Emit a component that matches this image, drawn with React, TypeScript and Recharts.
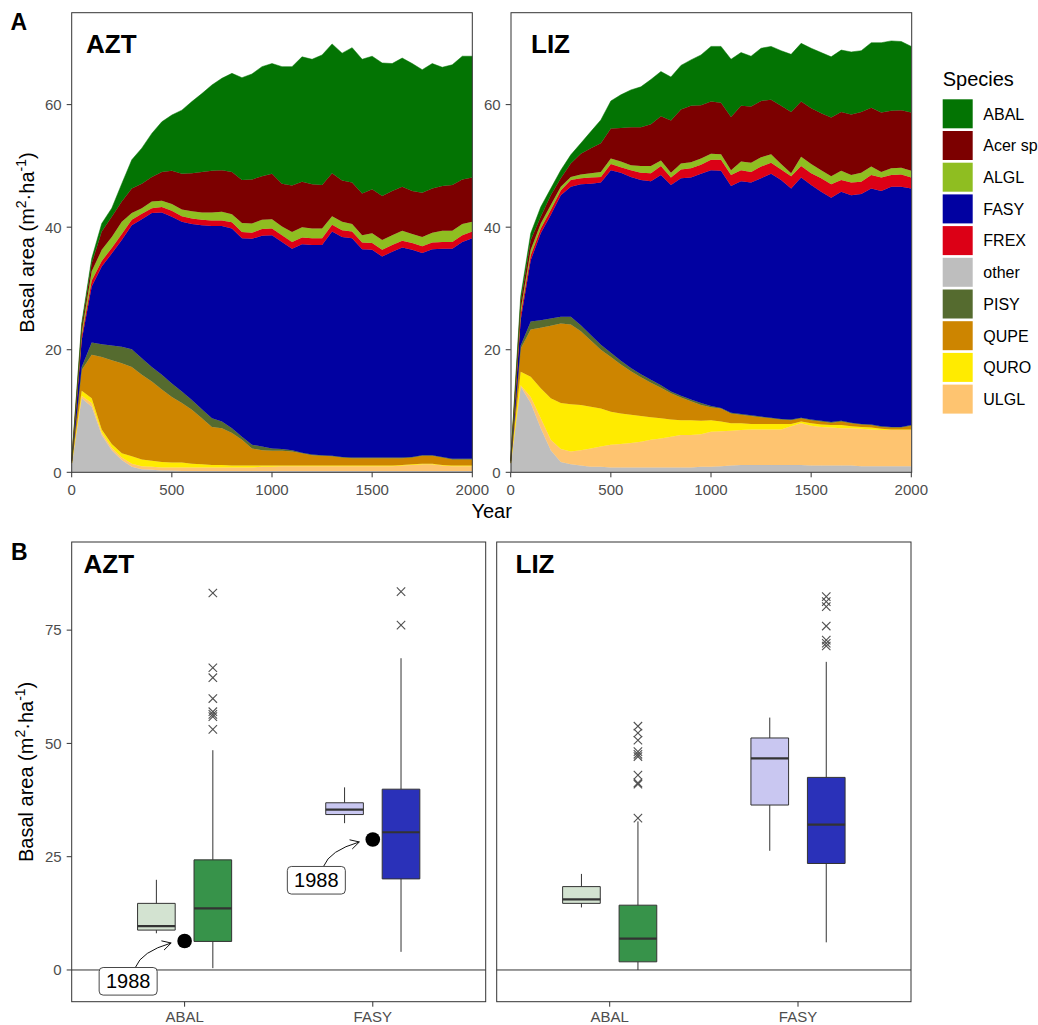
import React from "react";
import {
  AreaChart,
  Area,
  ComposedChart,
  Scatter,
  XAxis,
  YAxis,
  ReferenceArea,
  ReferenceLine,
} from "recharts";

const FONT = '"Liberation Sans", Arial, Helvetica, sans-serif';
const INK = "#333333";
const TICK_TEXT = "#4d4d4d";

// ---- panel A: stacked basal area over simulated years ----
const years = [
  0, 50, 100, 150, 200, 250, 300, 350, 400, 450, 500, 550, 600, 650, 700, 750, 800, 850, 900, 950, 1000,
  1050, 1100, 1150, 1200, 1250, 1300, 1350, 1400, 1450, 1500, 1550, 1600, 1650, 1700, 1750, 1800, 1850, 1900,
  1950, 2000,
];
const yearTicks = [0, 500, 1000, 1500, 2000];

const aztOther = [1.5, 12.1, 10.7, 6.1, 3.6, 2.0, 0.9, 0.5, 0.4, 0.3, 0.3, 0.2, 0.2, 0.2, 0.2, 0.2, 0.2, 0.2, 0.2, 0.2, 0.2, 0.2, 0.2, 0.2, 0.2, 0.2, 0.2, 0.2, 0.2, 0.2, 0.2, 0.2, 0.2, 0.2, 0.2, 0.2, 0.2, 0.2, 0.2, 0.2, 0.2];
const aztULGL = [0, 0.4, 0.6, 0.4, 0.4, 0.4, 0.5, 0.5, 0.5, 0.5, 0.5, 0.6, 0.6, 0.6, 0.6, 0.6, 0.6, 0.6, 0.6, 0.7, 0.7, 0.8, 0.8, 0.8, 0.8, 0.8, 0.8, 0.8, 0.8, 0.8, 0.8, 0.8, 0.8, 0.9, 1.0, 1.1, 1.1, 0.9, 0.8, 0.8, 0.8];
const aztQURO = [0, 0.8, 0.8, 0.5, 0.6, 0.7, 1.2, 1.1, 1.0, 0.9, 0.8, 0.8, 0.6, 0.5, 0.4, 0.4, 0.3, 0.3, 0.3, 0.2, 0.2, 0.1, 0.1, 0.1, 0.1, 0.1, 0.1, 0.1, 0.1, 0.1, 0.1, 0.1, 0.1, 0.1, 0.1, 0.1, 0.1, 0.1, 0.1, 0.1, 0.1];
const aztQUPE = [0, 3.4, 7.1, 11.8, 13.7, 14.7, 14.6, 13.8, 12.9, 11.8, 10.7, 9.7, 8.8, 7.5, 6.2, 6.0, 5.3, 4.2, 2.8, 2.5, 2.4, 2.4, 2.3, 2.0, 1.7, 1.6, 1.5, 1.3, 1.2, 1.2, 1.2, 1.2, 1.2, 1.1, 1.1, 1.3, 1.3, 1.2, 1.0, 1.0, 1.0];
const aztPISY = [0, 0.5, 2.0, 2.1, 2.4, 2.7, 2.9, 2.7, 2.4, 2.4, 2.2, 1.9, 1.6, 1.5, 1.4, 1.1, 0.8, 0.5, 0.6, 0.6, 0.4, 0.3, 0.2, 0.1, 0.1, 0.1, 0.1, 0.1, 0.1, 0.1, 0.1, 0.1, 0.1, 0.1, 0.1, 0.1, 0.1, 0.1, 0.1, 0.1, 0.1];
const aztFASY = [0.3, 4.4, 9.1, 12.7, 15.0, 17.4, 20.2, 22.7, 25.1, 26.5, 27.2, 27.7, 28.7, 30.0, 31.4, 31.9, 32.6, 32.4, 33.6, 34.4, 34.8, 33.8, 32.9, 34.0, 34.2, 34.3, 36.6, 35.9, 35.8, 34.0, 33.9, 32.8, 33.6, 34.3, 33.8, 33.0, 33.6, 34.0, 34.3, 35.4, 36.0];
const aztFREX = [0, 0.6, 1.0, 0.9, 0.9, 1.0, 0.9, 0.9, 0.8, 0.9, 1.0, 0.9, 0.9, 0.9, 0.9, 0.9, 1.0, 1.0, 1.0, 1.1, 1.1, 1.1, 1.1, 1.1, 1.1, 1.1, 1.1, 1.1, 1.1, 1.1, 1.1, 1.1, 1.1, 1.1, 1.1, 1.1, 1.1, 1.1, 1.1, 1.1, 1.1];
const aztALGL = [0, 0.8, 1.5, 1.8, 1.8, 2.0, 1.1, 0.9, 1.1, 1.0, 1.1, 1.1, 1.2, 1.2, 1.3, 1.4, 1.3, 1.5, 1.5, 1.5, 1.5, 1.4, 1.6, 1.7, 1.6, 1.6, 1.4, 1.4, 1.2, 1.2, 1.6, 1.6, 1.6, 1.6, 1.5, 1.5, 1.6, 1.8, 1.8, 1.8, 1.6];
const aztAcer = [0, 0.8, 1.3, 3.0, 3.3, 3.3, 4.0, 4.0, 4.0, 4.7, 5.4, 5.8, 6.2, 6.6, 6.8, 6.8, 6.9, 7.0, 7.2, 7.1, 7.4, 7.0, 7.6, 7.4, 7.2, 7.1, 7.0, 6.7, 6.8, 6.8, 7.2, 7.2, 7.2, 7.2, 7.0, 7.2, 7.2, 7.3, 7.5, 7.3, 7.2];
const aztABAL = [0, 0.5, 0.8, 1.3, 1.4, 2.9, 4.7, 5.8, 7.1, 8.2, 9.1, 10.4, 11.7, 12.8, 14.0, 15.0, 16.1, 16.7, 17.2, 17.9, 18.0, 19.1, 19.4, 20.4, 20.4, 21.2, 21.1, 20.8, 22.0, 21.9, 21.7, 21.7, 20.8, 21.0, 20.8, 20.1, 20.4, 19.4, 19.6, 20.1, 19.8];

const lizOther = [1.5, 14.0, 11.3, 7.2, 3.6, 1.7, 1.3, 1.1, 0.9, 0.9, 0.8, 0.8, 0.8, 0.8, 0.8, 0.8, 0.8, 0.8, 0.8, 0.9, 0.9, 1.0, 1.1, 1.2, 1.2, 1.2, 1.2, 1.2, 1.2, 1.2, 1.1, 1.1, 1.1, 1.1, 1.1, 1.0, 1.0, 1.0, 1.0, 1.0, 1.0];
const lizULGL = [0, 0.2, 1.0, 1.6, 1.7, 2.1, 2.1, 2.5, 3.0, 3.3, 3.7, 3.8, 4.0, 4.2, 4.5, 4.7, 5.0, 5.3, 5.3, 5.3, 5.7, 5.7, 5.7, 5.7, 5.8, 5.8, 5.8, 5.8, 6.3, 6.8, 6.5, 6.3, 6.2, 6.1, 6.1, 6.1, 6.0, 5.9, 5.9, 5.9, 5.9];
const lizQURO = [0, 2.2, 3.3, 4.9, 6.8, 7.5, 7.7, 7.4, 6.8, 6.2, 5.4, 5.0, 4.6, 4.2, 3.7, 3.3, 2.8, 2.4, 2.4, 2.2, 1.9, 1.6, 1.2, 1.1, 0.9, 0.9, 0.9, 0.9, 0.4, 0.3, 0.4, 0.4, 0.4, 0.5, 0.3, 0.3, 0.3, 0.2, 0.1, 0.1, 0.1];
const lizQUPE = [0, 3.8, 7.7, 9.9, 11.8, 13.0, 13.0, 12.0, 10.8, 9.6, 8.9, 8.0, 7.1, 6.3, 5.6, 5.0, 4.3, 3.7, 3.1, 2.6, 2.1, 2.1, 1.6, 1.4, 1.3, 1.1, 0.9, 0.7, 0.6, 0.5, 0.5, 0.5, 0.4, 0.6, 0.5, 0.4, 0.4, 0.3, 0.3, 0.3, 0.6];
const lizPISY = [0, 0.5, 1.3, 1.2, 1.2, 1.1, 1.3, 1.0, 0.9, 0.8, 0.7, 0.6, 0.5, 0.5, 0.5, 0.4, 0.3, 0.3, 0.3, 0.3, 0.2, 0.1, 0.1, 0.1, 0.1, 0.1, 0.1, 0.1, 0.1, 0.1, 0.1, 0.1, 0.1, 0.1, 0.1, 0.1, 0.1, 0.1, 0.1, 0.1, 0.1];
const lizFASY = [0.3, 4.2, 10.0, 14.2, 16.9, 19.8, 21.2, 23.0, 24.7, 26.5, 29.8, 30.7, 31.2, 31.7, 32.4, 34.3, 33.7, 35.5, 36.2, 37.4, 38.5, 38.7, 37.0, 38.0, 38.0, 38.9, 39.8, 39.0, 37.7, 39.2, 38.3, 37.4, 36.6, 37.4, 37.1, 37.5, 38.5, 38.4, 39.2, 39.2, 38.6];
const lizFREX = [0, 0.9, 0.8, 0.8, 0.8, 0.8, 1.1, 1.0, 1.0, 0.9, 1.0, 0.9, 1.1, 1.2, 1.3, 1.5, 1.2, 1.4, 1.5, 1.5, 1.7, 1.8, 1.8, 1.8, 1.7, 1.9, 1.8, 1.7, 2.0, 1.9, 1.9, 2.2, 2.2, 1.9, 2.1, 2.0, 2.2, 2.2, 1.9, 2.0, 1.8];
const lizALGL = [0, 0.8, 0.9, 0.8, 0.8, 0.6, 0.5, 0.6, 0.7, 0.8, 0.9, 0.9, 0.8, 1.1, 1.2, 0.9, 0.8, 1.0, 1.0, 1.0, 1.0, 0.9, 0.8, 1.4, 1.5, 1.5, 1.4, 0.9, 0.5, 1.5, 1.5, 1.3, 1.3, 1.5, 1.2, 1.5, 1.4, 0.9, 1.1, 1.1, 1.1];
const lizAcer = [0, 1.2, 1.6, 1.1, 1.6, 1.4, 2.2, 3.4, 4.1, 4.7, 4.9, 5.5, 6.2, 6.3, 6.8, 7.2, 8.5, 8.8, 9.2, 8.7, 8.5, 8.4, 8.7, 9.1, 9.2, 9.2, 8.9, 9.5, 10.0, 9.0, 9.1, 9.3, 9.6, 9.6, 9.9, 9.9, 9.6, 9.7, 9.4, 9.4, 9.5];
const lizABAL = [0, 0.9, 1.1, 1.6, 1.1, 1.3, 1.4, 1.7, 2.7, 3.8, 4.5, 5.4, 6.1, 6.6, 7.3, 7.3, 7.1, 7.2, 7.5, 8.2, 9.0, 9.2, 9.4, 8.7, 8.2, 8.6, 8.7, 9.0, 9.4, 9.5, 9.8, 9.9, 9.9, 10.1, 10.2, 10.0, 10.6, 11.4, 11.4, 11.2, 10.8];

// bottom -> top stacking order
const stackOrder = ["other", "ULGL", "QURO", "QUPE", "PISY", "FASY", "FREX", "ALGL", "Acer", "ABAL"];
const legendOrder = ["ABAL", "Acer", "ALGL", "FASY", "FREX", "other", "PISY", "QUPE", "QURO", "ULGL"];
const speciesLabel: Record<string, string> = { Acer: "Acer sp" };
const speciesColors: Record<string, string> = {
  ABAL: "#037403",
  Acer: "#7c0000",
  ALGL: "#8fbe21",
  FASY: "#0101a1",
  FREX: "#dc0016",
  other: "#bebebe",
  PISY: "#556b2f",
  QUPE: "#cd8500",
  QURO: "#ffeb00",
  ULGL: "#fec470",
};

function toRows(series: Record<string, number[]>) {
  return years.map((year, i) => {
    const row: Record<string, number> = { year };
    stackOrder.forEach((s) => {
      row[s] = series[s][i];
    });
    return row;
  });
}

const aztRows = toRows({
  other: aztOther, ULGL: aztULGL, QURO: aztQURO, QUPE: aztQUPE, PISY: aztPISY,
  FASY: aztFASY, FREX: aztFREX, ALGL: aztALGL, Acer: aztAcer, ABAL: aztABAL,
});
const lizRows = toRows({
  other: lizOther, ULGL: lizULGL, QURO: lizQURO, QUPE: lizQUPE, PISY: lizPISY,
  FASY: lizFASY, FREX: lizFREX, ALGL: lizALGL, Acer: lizAcer, ABAL: lizABAL,
});

// ---- panel B: observed (light) vs simulated (dark) basal area ----
const boxGroups = ["ABAL", "FASY"];
const boxPos = [0.85, 1.15, 1.85, 2.15];
const boxHalf = 0.1;
const boxFill = ["#d3e3d1", "#37934a", "#c9c7f1", "#2a31b9"];

const aztMin = [8.1, 0.4, 32.4, 4.0];
const aztQ1 = [8.8, 6.3, 34.3, 20.1];
const aztMed = [9.7, 13.6, 35.4, 30.4];
const aztQ3 = [14.7, 24.3, 36.9, 39.9];
const aztMax = [19.9, 48.5, 40.3, 68.8];
const aztOutABAL = [83.2, 66.7, 64.5, 59.9, 57.0, 56.4, 55.9, 53.1];
const aztOutFASY = [83.5, 76.1];
const azt1988 = [6.4, 28.8];

const lizMin = [13.8, 0.0, 26.3, 6.1];
const lizQ1 = [14.7, 1.8, 36.4, 23.5];
const lizMed = [15.6, 6.9, 46.7, 32.1];
const lizQ3 = [18.4, 14.3, 51.2, 42.5];
const lizMax = [21.2, 32.8, 55.7, 68.0];
const lizOutABAL = [53.8, 52.3, 50.7, 48.2, 47.6, 47.1, 43.0, 41.3, 41.0, 33.5];
const lizOutFASY = [82.4, 81.3, 80.2, 75.9, 72.8, 72.1, 71.5];

const obsYear = "1988";
const tagAt = [
  { x: 0.7, y: -2.5 },
  { x: 1.7, y: 19.8 },
];

const tickStyle = { fontSize: 15, fill: TICK_TEXT, fontFamily: FONT };

function AreaPanel({ rows, left }: { rows: Record<string, number>[]; left: number }) {
  return (
    <div style={{ position: "absolute", left, top: 0 }}>
      <AreaChart width={500} height={500} data={rows} margin={{ top: 12.7, right: 27.7, left: 31.7, bottom: 0 }}>
        <XAxis
          dataKey="year"
          type="number"
          domain={[0, 2000]}
          ticks={yearTicks}
          interval={0}
          height={27.7}
          tick={tickStyle}
          tickLine={{ stroke: INK }}
          tickSize={5}
          tickMargin={7}
          axisLine={false}
        />
        <YAxis
          type="number"
          domain={[0, 75]}
          ticks={[0, 20, 40, 60]}
          interval={0}
          width={40}
          tick={tickStyle}
          tickLine={{ stroke: INK }}
          tickSize={5}
          tickMargin={5}
          axisLine={false}
        />
        {stackOrder.map((s) => (
          <Area
            key={s}
            dataKey={s}
            name={speciesLabel[s] ?? s}
            stackId="1"
            type="linear"
            fill={speciesColors[s]}
            fillOpacity={1}
            stroke={speciesColors[s]}
            strokeWidth={0.5}
            dot={false}
            activeDot={false}
            isAnimationActive={false}
          />
        ))}
      </AreaChart>
    </div>
  );
}

const Cross = (props: any) => {
  const { cx, cy } = props;
  const h = 4.2;
  return (
    <g stroke="#505050" strokeWidth={1.1}>
      <line x1={cx - h} y1={cy - h} x2={cx + h} y2={cy + h} />
      <line x1={cx - h} y1={cy + h} x2={cx + h} y2={cy - h} />
    </g>
  );
};

const ObsDot = (props: any) => <circle cx={props.cx} cy={props.cy} r={7.3} fill="#000" />;

const YearTag = (props: any) => {
  const { cx, cy } = props;
  const sx = cx + 7.3;
  const sy = cy - 14;
  const qx = cx + 13.2;
  const qy = cy - 29.7;
  const ex = cx + 43;
  const ey = cy - 38.3;
  const ang = Math.atan2(ey - qy, ex - qx);
  const L = 10;
  const a1 = ang + Math.PI - 0.5;
  const a2 = ang + Math.PI + 0.5;
  return (
    <g>
      <path d={`M${sx},${sy} Q${qx},${qy} ${ex},${ey}`} fill="none" stroke="#111" strokeWidth={1} />
      <path
        d={`M${ex + L * Math.cos(a1)},${ey + L * Math.sin(a1)} L${ex},${ey} L${ex + L * Math.cos(a2)},${ey + L * Math.sin(a2)}`}
        fill="none"
        stroke="#111"
        strokeWidth={1}
      />
      <rect x={cx - 29} y={cy - 13.8} width={58} height={27.6} rx={4} fill="#fff" stroke={INK} strokeWidth={0.9} />
      <text x={cx} y={cy + 7} textAnchor="middle" fontSize={20} fontFamily={FONT} fill="#000">
        {obsYear}
      </text>
    </g>
  );
};

type BoxProps = {
  left: number;
  width: number;
  marginLeft: number;
  marginRight: number;
  showY: boolean;
  mins: number[];
  q1s: number[];
  meds: number[];
  q3s: number[];
  maxs: number[];
  outABAL: number[];
  outFASY: number[];
  obs?: number[];
};

function BoxPanel(p: BoxProps) {
  const outliers = [
    ...p.outABAL.map((y) => ({ x: boxPos[1], y })),
    ...p.outFASY.map((y) => ({ x: boxPos[3], y })),
  ];
  const obsPts = p.obs ? p.obs.map((y, i) => ({ x: i + 1, y })) : [];
  return (
    <div style={{ position: "absolute", left: p.left, top: 530 }}>
      <ComposedChart
        width={p.width}
        height={495}
        margin={{ top: 12, right: p.marginRight, left: p.marginLeft, bottom: 0 }}
      >
        <XAxis
          dataKey="x"
          type="number"
          domain={[0.4, 2.6]}
          ticks={[1, 2]}
          interval={0}
          tickFormatter={(v: number) => boxGroups[v - 1]}
          height={23.3}
          tick={tickStyle}
          tickLine={{ stroke: INK }}
          tickSize={5}
          tickMargin={5}
          axisLine={false}
        />
        <YAxis
          dataKey="y"
          type="number"
          domain={[-7, 94.45]}
          ticks={[0, 25, 50, 75]}
          interval={0}
          width={40}
          hide={!p.showY}
          tick={tickStyle}
          tickLine={{ stroke: INK }}
          tickSize={5}
          tickMargin={5}
          axisLine={false}
        />
        <ReferenceLine y={0} stroke={INK} strokeWidth={1} />
        {boxPos.map((x, i) => (
          <ReferenceLine
            key={`lo${i}`}
            segment={[{ x, y: p.mins[i] }, { x, y: p.q1s[i] }]}
            stroke={INK}
            strokeWidth={1}
          />
        ))}
        {boxPos.map((x, i) => (
          <ReferenceLine
            key={`hi${i}`}
            segment={[{ x, y: p.q3s[i] }, { x, y: p.maxs[i] }]}
            stroke={INK}
            strokeWidth={1}
          />
        ))}
        {boxPos.map((x, i) => (
          <ReferenceArea
            key={`box${i}`}
            x1={x - boxHalf}
            x2={x + boxHalf}
            y1={p.q1s[i]}
            y2={p.q3s[i]}
            fill={boxFill[i]}
            fillOpacity={1}
            stroke={INK}
            strokeWidth={1}
          />
        ))}
        {boxPos.map((x, i) => (
          <ReferenceLine
            key={`med${i}`}
            segment={[{ x: x - boxHalf, y: p.meds[i] }, { x: x + boxHalf, y: p.meds[i] }]}
            stroke={INK}
            strokeWidth={2.2}
          />
        ))}
        <Scatter data={outliers} dataKey="y" shape={Cross} isAnimationActive={false} />
        {obsPts.length > 0 && <Scatter data={obsPts} dataKey="y" shape={ObsDot} isAnimationActive={false} />}
        {obsPts.length > 0 && <Scatter data={tagAt} dataKey="y" shape={YearTag} isAnimationActive={false} />}
      </ComposedChart>
    </div>
  );
}

function YTitle({ cy }: { cy: number }) {
  return (
    <text
      x={33.5}
      y={cy}
      transform={`rotate(-90 33.5 ${cy})`}
      textAnchor="middle"
      fontSize={20}
      fontFamily={FONT}
      fill="#000"
    >
      Basal area (m
      <tspan dy={-8} fontSize={14}>2</tspan>
      <tspan dy={8}>·ha</tspan>
      <tspan dy={-8} fontSize={14}>-1</tspan>
      <tspan dy={8}>)</tspan>
    </text>
  );
}

export default function App() {
  return (
    <div style={{ position: "absolute", left: 0, top: 0, width: 1038, height: 1025, background: "#fff", fontFamily: FONT }}>
      <AreaPanel rows={aztRows} left={0} />
      <AreaPanel rows={lizRows} left={439.3} />
      <BoxPanel
        left={0}
        width={490}
        marginLeft={31.7}
        marginRight={4.3}
        showY
        mins={aztMin}
        q1s={aztQ1}
        meds={aztMed}
        q3s={aztQ3}
        maxs={aztMax}
        outABAL={aztOutABAL}
        outFASY={aztOutFASY}
        obs={azt1988}
      />
      <BoxPanel
        left={490}
        width={425}
        marginLeft={6.7}
        marginRight={4}
        showY={false}
        mins={lizMin}
        q1s={lizQ1}
        meds={lizMed}
        q3s={lizQ3}
        maxs={lizMax}
        outABAL={lizOutABAL}
        outFASY={lizOutFASY}
      />
      <svg
        width={1038}
        height={1025}
        style={{ position: "absolute", left: 0, top: 0, pointerEvents: "none" }}
      >
        <g fill="none" stroke={INK} strokeWidth={1}>
          <rect x={71.7} y={12.7} width={400.6} height={459.6} />
          <rect x={511} y={12.7} width={400.7} height={459.6} />
          <rect x={71.7} y={542} width={414} height={459.7} />
          <rect x={496.7} y={542} width={414.3} height={459.7} />
        </g>
        <g fontFamily={FONT} fontWeight="bold" fill="#000">
          <text x={10.5} y={30} fontSize={23}>A</text>
          <text x={11} y={560} fontSize={23}>B</text>
          <text x={86} y={52.7} fontSize={26}>AZT</text>
          <text x={531} y={52.7} fontSize={26}>LIZ</text>
          <text x={83.5} y={572.7} fontSize={26}>AZT</text>
          <text x={515.5} y={572.7} fontSize={26}>LIZ</text>
        </g>
        <YTitle cy={242.5} />
        <YTitle cy={771.9} />
        <text x={491.7} y={518} textAnchor="middle" fontSize={20} fontFamily={FONT} fill="#000">
          Year
        </text>
        <text x={942.7} y={85.5} fontSize={20} fontFamily={FONT} fill="#000">
          Species
        </text>
        {legendOrder.map((s, i) => (
          <g key={s}>
            <rect x={942.7} y={99.3 + i * 31.7} width={30} height={29} fill={speciesColors[s]} />
            <text x={983.3} y={99.3 + i * 31.7 + 20.3} fontSize={16} fontFamily={FONT} fill="#000">
              {speciesLabel[s] ?? s}
            </text>
          </g>
        ))}
      </svg>
    </div>
  );
}
